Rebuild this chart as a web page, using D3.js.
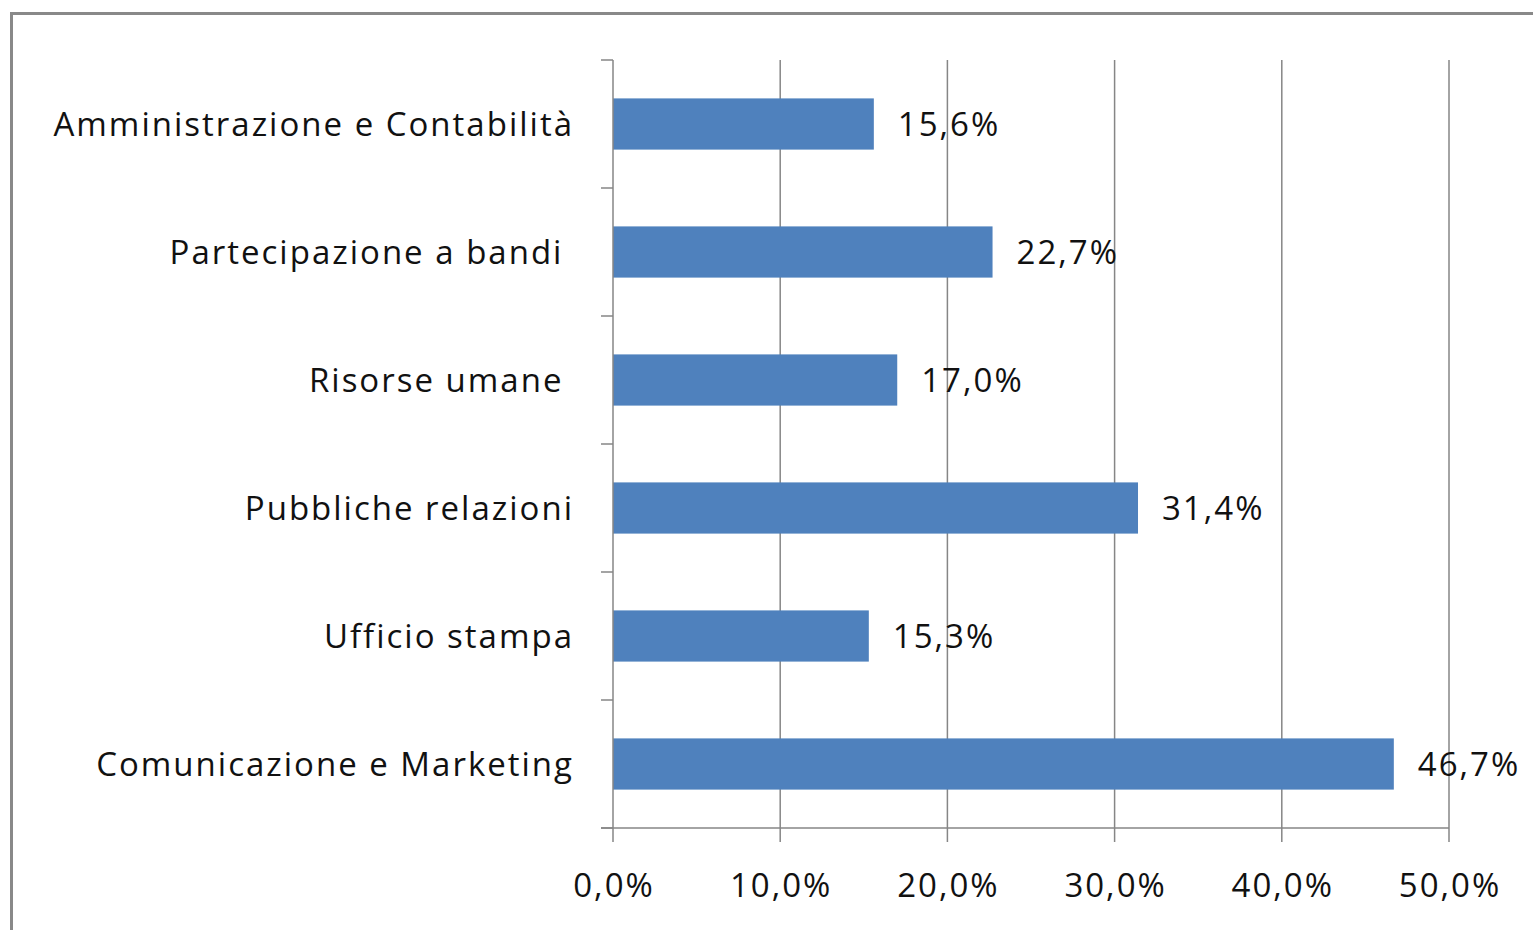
<!DOCTYPE html>
<html><head><meta charset="utf-8">
<script src="https://cdn.jsdelivr.net/npm/d3@7"></script>
<style>body{margin:0;background:#fff}text{font-family:"Open Sans",sans-serif;fill:#111;letter-spacing:2px}</style>
</head><body><svg id="c" width="1533" height="930"></svg>
<script>
const categories = ["Amministrazione e Contabilità","Partecipazione a bandi ","Risorse umane ","Pubbliche relazioni","Ufficio stampa","Comunicazione e Marketing"];
const values = [15.6, 22.7, 17.0, 31.4, 15.3, 46.7];
const xTicks = [0, 10, 20, 30, 40, 50];
const fmt = v => v.toFixed(1).replace(".", ",") + "%";

const svg = d3.select("#c");
svg.append("rect").attr("x",11.5).attr("y",13.5).attr("width",1540).attr("height",940)
  .attr("fill","#fff").attr("stroke","#898989").attr("stroke-width",3);

const m = {l:613, r:1449, t:60, b:828};
const x = d3.scaleLinear().domain([0,50]).range([m.l, m.r]);
const y = d3.scaleBand().domain(categories).range([m.t, m.b]).paddingInner(0.6).paddingOuter(0.3);
const gridColor = "#868686";
const fs = "33px";

svg.append("g").selectAll("line").data(xTicks.slice(1)).join("line")
  .attr("x1",d=>x(d)).attr("x2",d=>x(d)).attr("y1",m.t).attr("y2",m.b)
  .attr("stroke",gridColor).attr("stroke-width",1.5);

svg.append("g").selectAll("rect").data(values).join("rect")
  .attr("x",x(0)).attr("y",(d,i)=>y(categories[i]))
  .attr("width",d=>x(d)-x(0)).attr("height",y.bandwidth())
  .attr("fill","#4F81BD");

const ya = svg.append("g");
ya.append("line").attr("x1",m.l).attr("x2",m.l).attr("y1",m.t).attr("y2",m.b).attr("stroke",gridColor).attr("stroke-width",1.5);
const yTickPos = d3.range(categories.length+1).map(i => m.t + i*(m.b-m.t)/categories.length);
ya.selectAll("line.t").data(yTickPos).join("line").attr("class","t")
  .attr("x1",m.l-12).attr("x2",m.l).attr("y1",d=>d).attr("y2",d=>d).attr("stroke",gridColor).attr("stroke-width",1.5);
ya.selectAll("text").data(categories).join("text")
  .attr("x",574).attr("y",d=>y(d)+y.bandwidth()/2).attr("dy","0.35em")
  .attr("text-anchor","end").style("white-space","pre").style("font-size",fs)
  .text(d=>d);

const xa = svg.append("g");
xa.append("line").attr("x1",m.l-12).attr("x2",m.r).attr("y1",m.b).attr("y2",m.b).attr("stroke",gridColor).attr("stroke-width",1.5);
xa.selectAll("line.t").data(xTicks).join("line").attr("class","t")
  .attr("x1",d=>x(d)).attr("x2",d=>x(d)).attr("y1",m.b).attr("y2",m.b+14).attr("stroke",gridColor).attr("stroke-width",1.5);
xa.selectAll("text").data(xTicks).join("text")
  .attr("x",d=>x(d)+1).attr("y",897).attr("text-anchor","middle").style("font-size",fs)
  .text(d=>fmt(d));

svg.append("g").selectAll("text").data(values).join("text")
  .attr("x",d=>x(d)+24).attr("y",(d,i)=>y(categories[i])+y.bandwidth()/2).attr("dy","0.35em")
  .style("font-size",fs).text(d=>fmt(d));
</script></body></html>
